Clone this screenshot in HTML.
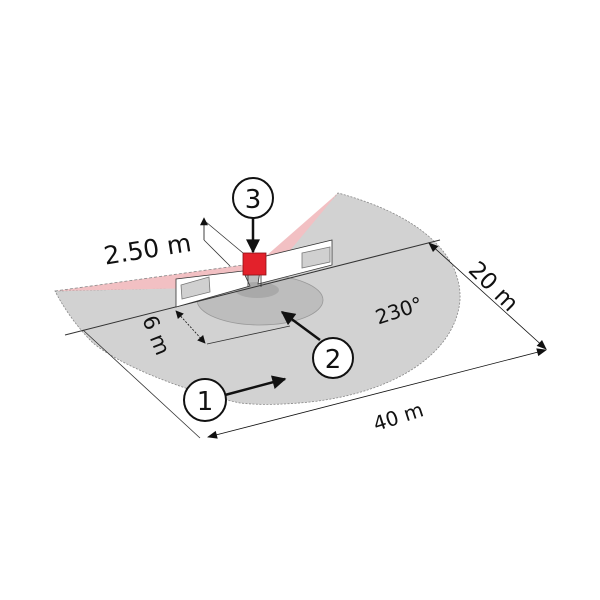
<!DOCTYPE html>
<html><head><meta charset="utf-8"><style>
html,body{margin:0;padding:0;background:#fff;}
svg{display:block;}
text{font-family:"DejaVu Sans","Liberation Sans",sans-serif;fill:#111;}
</style></head><body>
<svg width="600" height="600" viewBox="0 0 600 600" xmlns="http://www.w3.org/2000/svg">
<defs>
<marker id="ah" viewBox="0 0 10 10" refX="9" refY="5" markerUnits="userSpaceOnUse" markerWidth="12" markerHeight="10" orient="auto-start-reverse"><path d="M0,1 L10,5 L0,9 z" fill="#111"/></marker>
<marker id="big" viewBox="0 0 10 10" refX="9" refY="5" markerUnits="userSpaceOnUse" markerWidth="18" markerHeight="14" orient="auto-start-reverse"><path d="M0,0 L10,5 L0,10 z" fill="#111"/></marker>
<marker id="bh" viewBox="0 0 10 10" refX="9" refY="5" markerUnits="userSpaceOnUse" markerWidth="10" markerHeight="8" orient="auto-start-reverse"><path d="M0,0 L10,5 L0,10 z" fill="#111"/></marker>
</defs>
<path d="M55,291 L250,286 L338,193 C420,215 462,255 460,300 C456,350 400,392 310,402 C270,406 250,404 240,403 C180,390 120,365 93,343 C75,325 62,305 55,291 Z" fill="#d2d2d2" stroke="#888" stroke-width="0.8" stroke-dasharray="2,1.5"/>
<path d="M55,291 L243,265 L250,287 Z" fill="#f2c0c3"/>
<line x1="55" y1="291" x2="243" y2="265" stroke="#888" stroke-width="0.8" stroke-dasharray="3,2"/>
<path d="M338,193 L266,256 L262,284 Z" fill="#f2c0c3"/>
<ellipse cx="260" cy="300" rx="63" ry="25" fill="#bdbdbd" stroke="#999" stroke-width="0.8"/>
<ellipse cx="257" cy="290" rx="22" ry="8" fill="#a9a9a9"/>
<line x1="65" y1="335" x2="440" y2="240" stroke="#333" stroke-width="1"/>
<path d="M176,279 L243,271 L250,286 L176,307 Z" fill="#fff" stroke="#333" stroke-width="0.8"/>
<path d="M181,285 L209,277 L210,292 L182,299 Z" fill="#d0d0d0" stroke="#777" stroke-width="0.8"/>
<path d="M262,257 L332,240 L332,265 L258,284 Z" fill="#fff" stroke="#333" stroke-width="0.8"/>
<path d="M302,253 L330,247 L330,262 L302,268 Z" fill="#d0d0d0" stroke="#777" stroke-width="0.8"/>
<line x1="248" y1="275" x2="248" y2="287" stroke="#333" stroke-width="0.8"/>
<line x1="261" y1="275" x2="261" y2="287" stroke="#333" stroke-width="0.8"/>
<rect x="243" y="253" width="23" height="22" fill="#e3212b" stroke="#8a1015" stroke-width="0.8"/>
<line x1="204" y1="240" x2="204" y2="218" stroke="#111" stroke-width="0.8" marker-end="url(#bh)"/>
<line x1="206" y1="222" x2="243" y2="253" stroke="#333" stroke-width="0.8"/>
<line x1="204" y1="240" x2="230" y2="266" stroke="#333" stroke-width="0.8"/>
<text x="103" y="258" font-size="25" transform="rotate(-9 146 246)">2.50 m</text>
<line x1="176" y1="311" x2="205" y2="343" stroke="#111" stroke-width="0.8" stroke-dasharray="2,1.5" marker-start="url(#bh)" marker-end="url(#bh)"/>
<line x1="207" y1="344" x2="290" y2="326" stroke="#333" stroke-width="0.8"/>
<text x="140" y="338" font-size="21" transform="rotate(68 155 330)">6 m</text>
<line x1="83" y1="330" x2="200" y2="438" stroke="#333" stroke-width="0.8"/>
<line x1="429" y1="243" x2="546" y2="349" stroke="#111" stroke-width="0.8" marker-start="url(#ah)" marker-end="url(#ah)"/>
<line x1="208" y1="437" x2="546" y2="350" stroke="#111" stroke-width="0.8" marker-start="url(#ah)" marker-end="url(#ah)"/>
<text x="466" y="292" font-size="23" transform="rotate(45 492 283)">20 m</text>
<text x="372" y="424" font-size="20" transform="rotate(-18 397 415)">40 m</text>
<text x="374" y="318" font-size="20" transform="rotate(-18 397 308)">230°</text>
<line x1="253" y1="218" x2="253" y2="252" stroke="#111" stroke-width="2.5" marker-end="url(#big)"/>
<circle cx="253" cy="198" r="20" fill="#fff" stroke="#111" stroke-width="2"/>
<text x="253" y="208" font-size="26" text-anchor="middle">3</text>
<line x1="320" y1="340" x2="282" y2="312" stroke="#111" stroke-width="2.5" marker-end="url(#big)"/>
<circle cx="333" cy="358" r="20" fill="#fff" stroke="#111" stroke-width="2"/>
<text x="333" y="368" font-size="26" text-anchor="middle">2</text>
<line x1="225" y1="395" x2="285" y2="379" stroke="#111" stroke-width="2.5" marker-end="url(#big)"/>
<circle cx="205" cy="400" r="21" fill="#fff" stroke="#111" stroke-width="2"/>
<text x="205" y="410" font-size="26" text-anchor="middle">1</text>
</svg>
</body></html>
